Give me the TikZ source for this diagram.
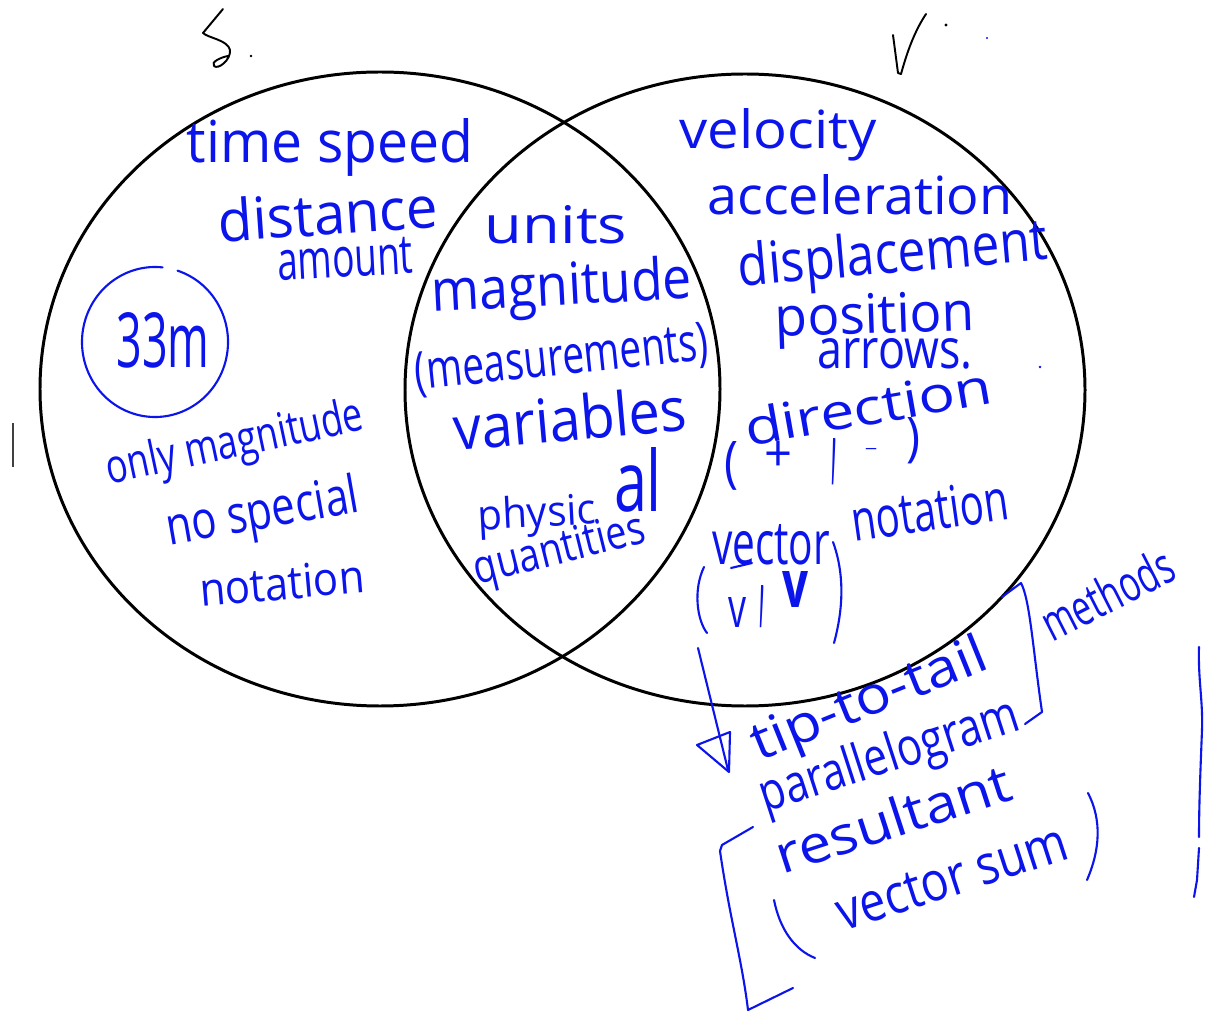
\documentclass[tikz,border=0pt]{standalone}
\usepackage{fontspec}
\setmainfont{Open Sans}
\usepackage{graphicx}
\definecolor{ink}{RGB}{10,20,235}
\newlength\px \setlength\px{0.02cm}
\newcommand\hwa[2]{\resizebox{#1\px}{!}{#2}}
\newcommand\hwb[3]{\resizebox{#1\px}{#2\px}{#3}}
\begin{document}
\begin{tikzpicture}[x=0.02cm,y=-0.02cm,
  ring/.style={draw=black,line width=1.7pt},
  pen/.style={draw=ink,line width=1.2pt,line cap=round,line join=round},
  blk/.style={draw=black,line width=1.1pt,line cap=round,line join=round},
  hw/.style={text=ink,inner sep=0pt,anchor=center}]
\path[use as bounding box, fill=white] (0,0) rectangle (1207,1016);

% the two sets
\draw[ring] (380,389) ellipse [x radius=340, y radius=317];
\draw[ring] (745,390) ellipse [x radius=340, y radius=316];

% set labels
\draw[blk] (223,9) -- (203,33) .. controls (208,38) and (228,40) .. (230,50)
  .. controls (231,60) and (218,70) .. (214,66) .. controls (210,62) and (222,57) .. (228,56);
\fill[black] (251,56) circle (1.4);
\draw[blk] (893,35) -- (898,73) -- (901,74) .. controls (905,60) and (912,35) .. (926,14);
\fill[black] (946,25) circle (1.6);
\fill[ink] (987,38) circle (1.2);
\draw[black!75, line width=1.6pt] (13,423) -- (13,467);

% left set
\node[hw] (time) at (330,147) {\hwb{286}{44}{time speed}};
\node[hw, rotate=4] (dist) at (328,213) {\hwb{220}{44}{distance}};
\node[hw, rotate=3] (amt) at (345,259) {\hwb{136}{36}{amount}};
\node[hw] (ex) at (163,340) {\hwb{93}{55}{33m}};
\draw[pen] (155,342) ++(288:73 and 75) arc[start angle=288, end angle=636, x radius=73, y radius=75];
\node[hw, rotate=12] (only) at (235,445) {\hwb{262}{36}{only magnitude}};
\node[hw, rotate=10] (nospec) at (263,515) {\hwb{195}{40}{no special}};
\node[hw, rotate=5] (nota) at (282,583) {\hwb{165}{34}{notation}};

% intersection
\node[hw] (units) at (556,225) {\hwb{142}{38}{units}};
\node[hw, rotate=3] (magn) at (562,290) {\hwb{260}{44}{magnitude}};
\node[hw, rotate=6] (meas) at (562,360) {\hwb{295}{38}{(measurements)}};
\node[hw, rotate=5] (vari) at (570,418) {\hwb{234}{46}{variables}};
\node[hw, rotate=3] (phys) at (537,516) {\hwb{118}{32}{physic}};
\node[hw] (al) at (638,480) {\hwb{48}{64}{al}};
\node[hw, rotate=14] (quant) at (560,552) {\hwb{175}{34}{quantities}};

% right set
\node[hw] (velo) at (778,135) {\hwb{197}{40}{velocity}};
\node[hw] (acc) at (860,195) {\hwb{305}{40}{acceleration}};
\node[hw, rotate=5] (disp) at (893,258) {\hwb{310}{44}{displacement}};
\node[hw, rotate=2] (pos) at (875,320) {\hwb{200}{40}{position}};
\node[hw] (arr) at (895,354) {\hwb{155}{30}{arrows.}};
\fill[ink] (1040,367) circle (1.4);
\node[hw, rotate=10] (dir) at (868,406) {\hwb{250}{38}{direction}};
\node[hw] (lp1) at (731,466) {\hwb{14}{40}{(}};
\node[hw] (plus) at (778,456) {\hwb{28}{30}{+}};
\node[hw] (comma) at (834,462) {\hwb{6}{22}{,}};
\node[hw] (minus) at (871,451) {\hwb{14}{5}{-}};
\node[hw] (rp1) at (913,441) {\hwb{14}{38}{)}};
\node[hw] (vec) at (771,545) {\hwb{118}{40}{vector}};
\node[hw, rotate=8] (vnot) at (930,510) {\hwb{158}{42}{notation}};
\draw[pen] (704,567) .. controls (693,590) and (697,620) .. (707,633);
\node[hw] (v1) at (737,612) {\hwb{18}{30}{v}};
\draw[pen] (731,568) -- (752,563);
\node[hw] (comma2) at (762,607) {\hwb{6}{20}{,}};
\node[hw] (v2) at (795,590) {\hwb{26}{36}{\bfseries v}};
\draw[pen] (833,542) .. controls (845,575) and (843,610) .. (834,643);

% arrow to methods
\coordinate (a0) at (698,648);
\coordinate (a1) at (728,770);
\draw[pen] (a0) -- (a1);
\draw[pen] (697,745) -- (730,732) -- (729,772) -- cycle;
\node[hw, rotate=22] (tip) at (870,702) {\hwb{250}{40}{tip-to-tail}};
\node[hw, rotate=18] (para) at (890,758) {\hwb{270}{40}{parallelogram}};
\draw[pen] (1002,597) -- (1021,583) .. controls (1030,600) and (1033,650) .. (1042,712) -- (1025,724);
\node[hw, rotate=27] (meth) at (1107,594) {\hwb{142}{38}{methods}};
\node[hw, rotate=18] (res) at (893,818) {\hwb{245}{40}{resultant}};
\node[hw, rotate=18] (vsum) at (952,878) {\hwb{240}{36}{vector sum}};
\draw[pen] (774,900) .. controls (780,930) and (795,950) .. (815,958);
\draw[pen] (1088,793) .. controls (1102,820) and (1100,850) .. (1087,880);
\draw[pen] (753,827) -- (722,845) -- (720,851) .. controls (730,920) and (742,960) .. (748,1010) -- (793,988);

% right margin line
\draw[pen] (1199,647) .. controls (1198,680) and (1203,700) .. (1202,730)
  .. controls (1200,780) and (1199,810) .. (1199,837);
\draw[pen] (1199,848) -- (1197,880) -- (1194,897);
\end{tikzpicture}
\end{document}
